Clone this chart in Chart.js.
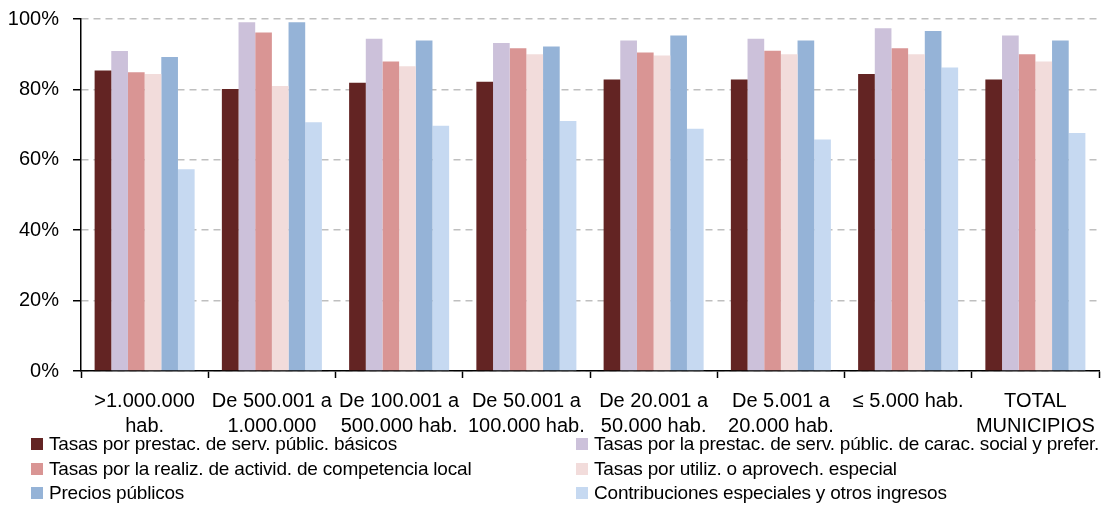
<!DOCTYPE html>
<html>
<head>
<meta charset="utf-8">
<script src="https://cdn.jsdelivr.net/npm/chart.js@4/dist/chart.umd.min.js"></script>
<style>
  html, body { margin: 0; padding: 0; background: #fff; }
  #wrap { position: relative; width: 1107px; height: 507px; }
  #c { position: absolute; left: 0; top: 0; }
  .leg { position: absolute; display: flex; align-items: center; height: 24px;
         font-family: 'Liberation Sans', Arial, sans-serif;
         font-size: 19px; letter-spacing: -0.2px; color: #000; white-space: nowrap; }
  .leg span.sw { display: inline-block; width: 12px; height: 12px; margin-right: 6px; }
</style>
</head>
<body>
<div id="wrap">
  <canvas id="c" width="1107" height="507"></canvas>
  <div id="legend"></div>
</div>
<script>
const categories = [
  ['>1.000.000', 'hab.'],
  ['De 500.001 a', '1.000.000'],
  ['De 100.001 a', '500.000 hab.'],
  ['De 50.001 a', '100.000 hab.'],
  ['De 20.001 a', '50.000 hab.'],
  ['De 5.001 a', '20.000 hab.'],
  ['\u2264 5.000 hab.'],
  ['TOTAL', 'MUNICIPIOS']
];
const seriesNames = [
  'Tasas por prestac. de serv. públic. básicos',
  'Tasas por la prestac. de serv. públic. de carac. social y prefer.',
  'Tasas por la realiz. de activid. de competencia local',
  'Tasas por utiliz. o aprovech. especial',
  'Precios públicos',
  'Contribuciones especiales y otros ingresos'
];
const basicos      = [85.4, 80.1, 81.9, 82.2, 82.8, 82.8, 84.4, 82.8];
const social       = [90.9, 99.1, 94.4, 93.2, 93.9, 94.4, 97.4, 95.3];
const competencia  = [84.9, 96.2, 87.9, 91.7, 90.5, 91.0, 91.7, 90.0];
const aprovech     = [84.4, 81.0, 86.6, 90.0, 89.6, 90.0, 90.0, 87.9];
const precios      = [89.2, 99.1, 93.9, 92.2, 95.3, 93.9, 96.6, 93.9];
const contrib      = [57.3, 70.7, 69.7, 71.0, 68.8, 65.8, 86.2, 67.6];
const yTicks = [0, 20, 40, 60, 80, 100];

const colors = ['#632423', '#CCC1DA', '#D99594', '#F2DCDB', '#95B3D7', '#C6D9F1'];
const seriesData = [basicos, social, competencia, aprovech, precios, contrib];

const FONT = "'Liberation Sans', Arial, sans-serif";

const datasets = seriesData.map((d, i) => ({
  label: seriesNames[i],
  data: d,
  backgroundColor: colors[i],
  borderWidth: 0,
  categoryPercentage: 0.786,
  barPercentage: 1.0
}));

new Chart(document.getElementById('c'), {
  type: 'bar',
  data: { labels: categories, datasets },
  options: {
    responsive: false,
    animation: false,
    layout: { padding: { top: 19, right: 8, left: 0, bottom: 0 } },
    plugins: { legend: { display: false }, tooltip: { enabled: false } },
    scales: {
      x: {
        offset: true,
        grid: { display: true, drawOnChartArea: false, drawTicks: true, tickLength: 7,
                tickColor: '#000', tickWidth: 1.5, offset: true },
        border: { display: true, color: '#000', width: 1.5 },
        ticks: { color: '#000', font: { family: FONT, size: 20, lineHeight: 1.25 },
                 padding: 11, maxRotation: 0, autoSkip: false },
        afterFit: (s) => { s.height = 136; }
      },
      y: {
        min: 0, max: 100,
        afterBuildTicks: (s) => { s.ticks = yTicks.map(v => ({ value: v })); },
        grid: { color: '#BFBFBF', lineWidth: 1.5, tickColor: '#000', tickLength: 8,
                tickWidth: 1.5, tickBorderDash: [] },
        border: { display: true, color: '#000', width: 1.5, dash: [7, 5] },
        ticks: { color: '#000', font: { family: FONT, size: 20 }, padding: 14,
                 callback: (v) => v + '%' },
        afterFit: (s) => { s.width = 81; s.paddingTop = 0; s.paddingBottom = 0; }
      }
    }
  }
});

// Legend (two columns, row-wise order as in the reference)
const leg = document.getElementById('legend');
const colX = [31, 576];
const rowTop = [432, 457, 481];
seriesNames.forEach((name, i) => {
  const d = document.createElement('div');
  d.className = 'leg';
  d.style.left = colX[i % 2] + 'px';
  d.style.top = rowTop[Math.floor(i / 2)] + 'px';
  const sw = document.createElement('span');
  sw.className = 'sw';
  sw.style.background = colors[i];
  d.appendChild(sw);
  d.appendChild(document.createTextNode(name));
  leg.appendChild(d);
});
</script>
</body>
</html>
